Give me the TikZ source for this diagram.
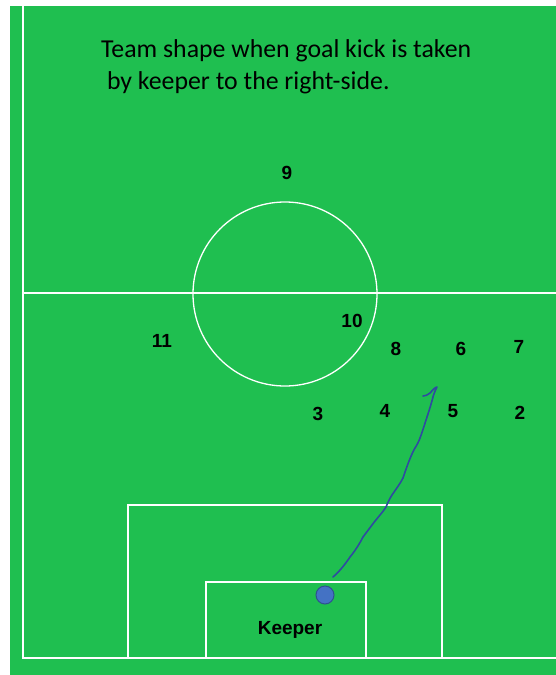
\documentclass[tikz,border=0pt]{standalone}
\usepackage{fontspec}
\setmainfont{Liberation Sans}
\newfontfamily\titlefont{Carlito}
\definecolor{pitch}{RGB}{31,191,80}
\definecolor{ballfill}{RGB}{68,114,196}
\definecolor{balledge}{RGB}{47,82,143}
\definecolor{pen}{RGB}{47,75,160}
\begin{document}
\begin{tikzpicture}[x=1pt,y=-1pt,
  fieldline/.style={white,line width=1.3pt},
  player/.style={font=\bfseries\fontsize{19}{19}\selectfont,inner sep=0pt},
  titletext/.style={font=\titlefont\fontsize{25.8}{30}\selectfont,inner sep=0pt,anchor=base west}]
\useasboundingbox (0,0) rectangle (556,675);
\fill[white] (0,0) rectangle (556,675);
\fill[pitch] (10,6) rectangle (556,675);
% field markings
\draw[fieldline] (23,6) -- (23,658) -- (556,658);
\draw[fieldline] (23,293) -- (556,293);
\node[draw=white,line width=1.3pt,circle,minimum size=184pt,inner sep=0pt] (circ) at (285,294) {};
\draw[fieldline] (128,658) -- (128,505) -- (442,505) -- (442,658);
\draw[fieldline] (206,658) -- (206,582) -- (366,582) -- (366,658);
% title
\node[titletext] (t1) at (101,57) {Team shape when goal kick is taken};
\node[titletext] (t2) at (101,89) {\ by keeper to the right-side.};
% players
\node[player] (p9) at (287,173) {9};
\node[player] (p10) at (352,321) {10};
\node[player] (p11) at (162,341) {11};
\node[player] (p8) at (396,349) {8};
\node[player] (p6) at (461,349) {6};
\node[player] (p7) at (519,347) {7};
\node[player] (p3) at (318,414) {3};
\node[player] (p4) at (385,411) {4};
\node[player] (p5) at (453,411) {5};
\node[player] (p2) at (520,413) {2};
\node[player] (keeper) at (290,630) {Keeper};
% ball
\node[circle,fill=ballfill,draw=balledge,line width=1pt,minimum size=18pt,inner sep=0pt] (ball) at (325,595) {};
% hand-drawn kick path
\coordinate (kickstart) at (333,577);
\coordinate (kickend) at (423,396);
\draw[pen,line width=1.6pt,line cap=round,line join=round]
  (kickstart) .. controls (340,571) and (346,563) .. (350,557)
  .. controls (355,551) and (360,543) .. (363,537)
  -- (366,533) -- (372,525)
  .. controls (378,517) and (383,512) .. (386,507)
  .. controls (388,502) and (390,498) .. (392,495)
  .. controls (396,489) and (400,484) .. (403,478)
  .. controls (407,466) and (411,455) .. (415,448)
  .. controls (417,445) and (419,441) .. (420,438)
  .. controls (423,430) and (425,423) .. (427,417)
  .. controls (430,408) and (432,401) .. (433,397)
  .. controls (434,393) and (436,389) .. (437,387)
  .. controls (435,387) and (432,391) .. (430,393)
  .. controls (428,395) and (425,396) .. (kickend);
\end{tikzpicture}
\end{document}
